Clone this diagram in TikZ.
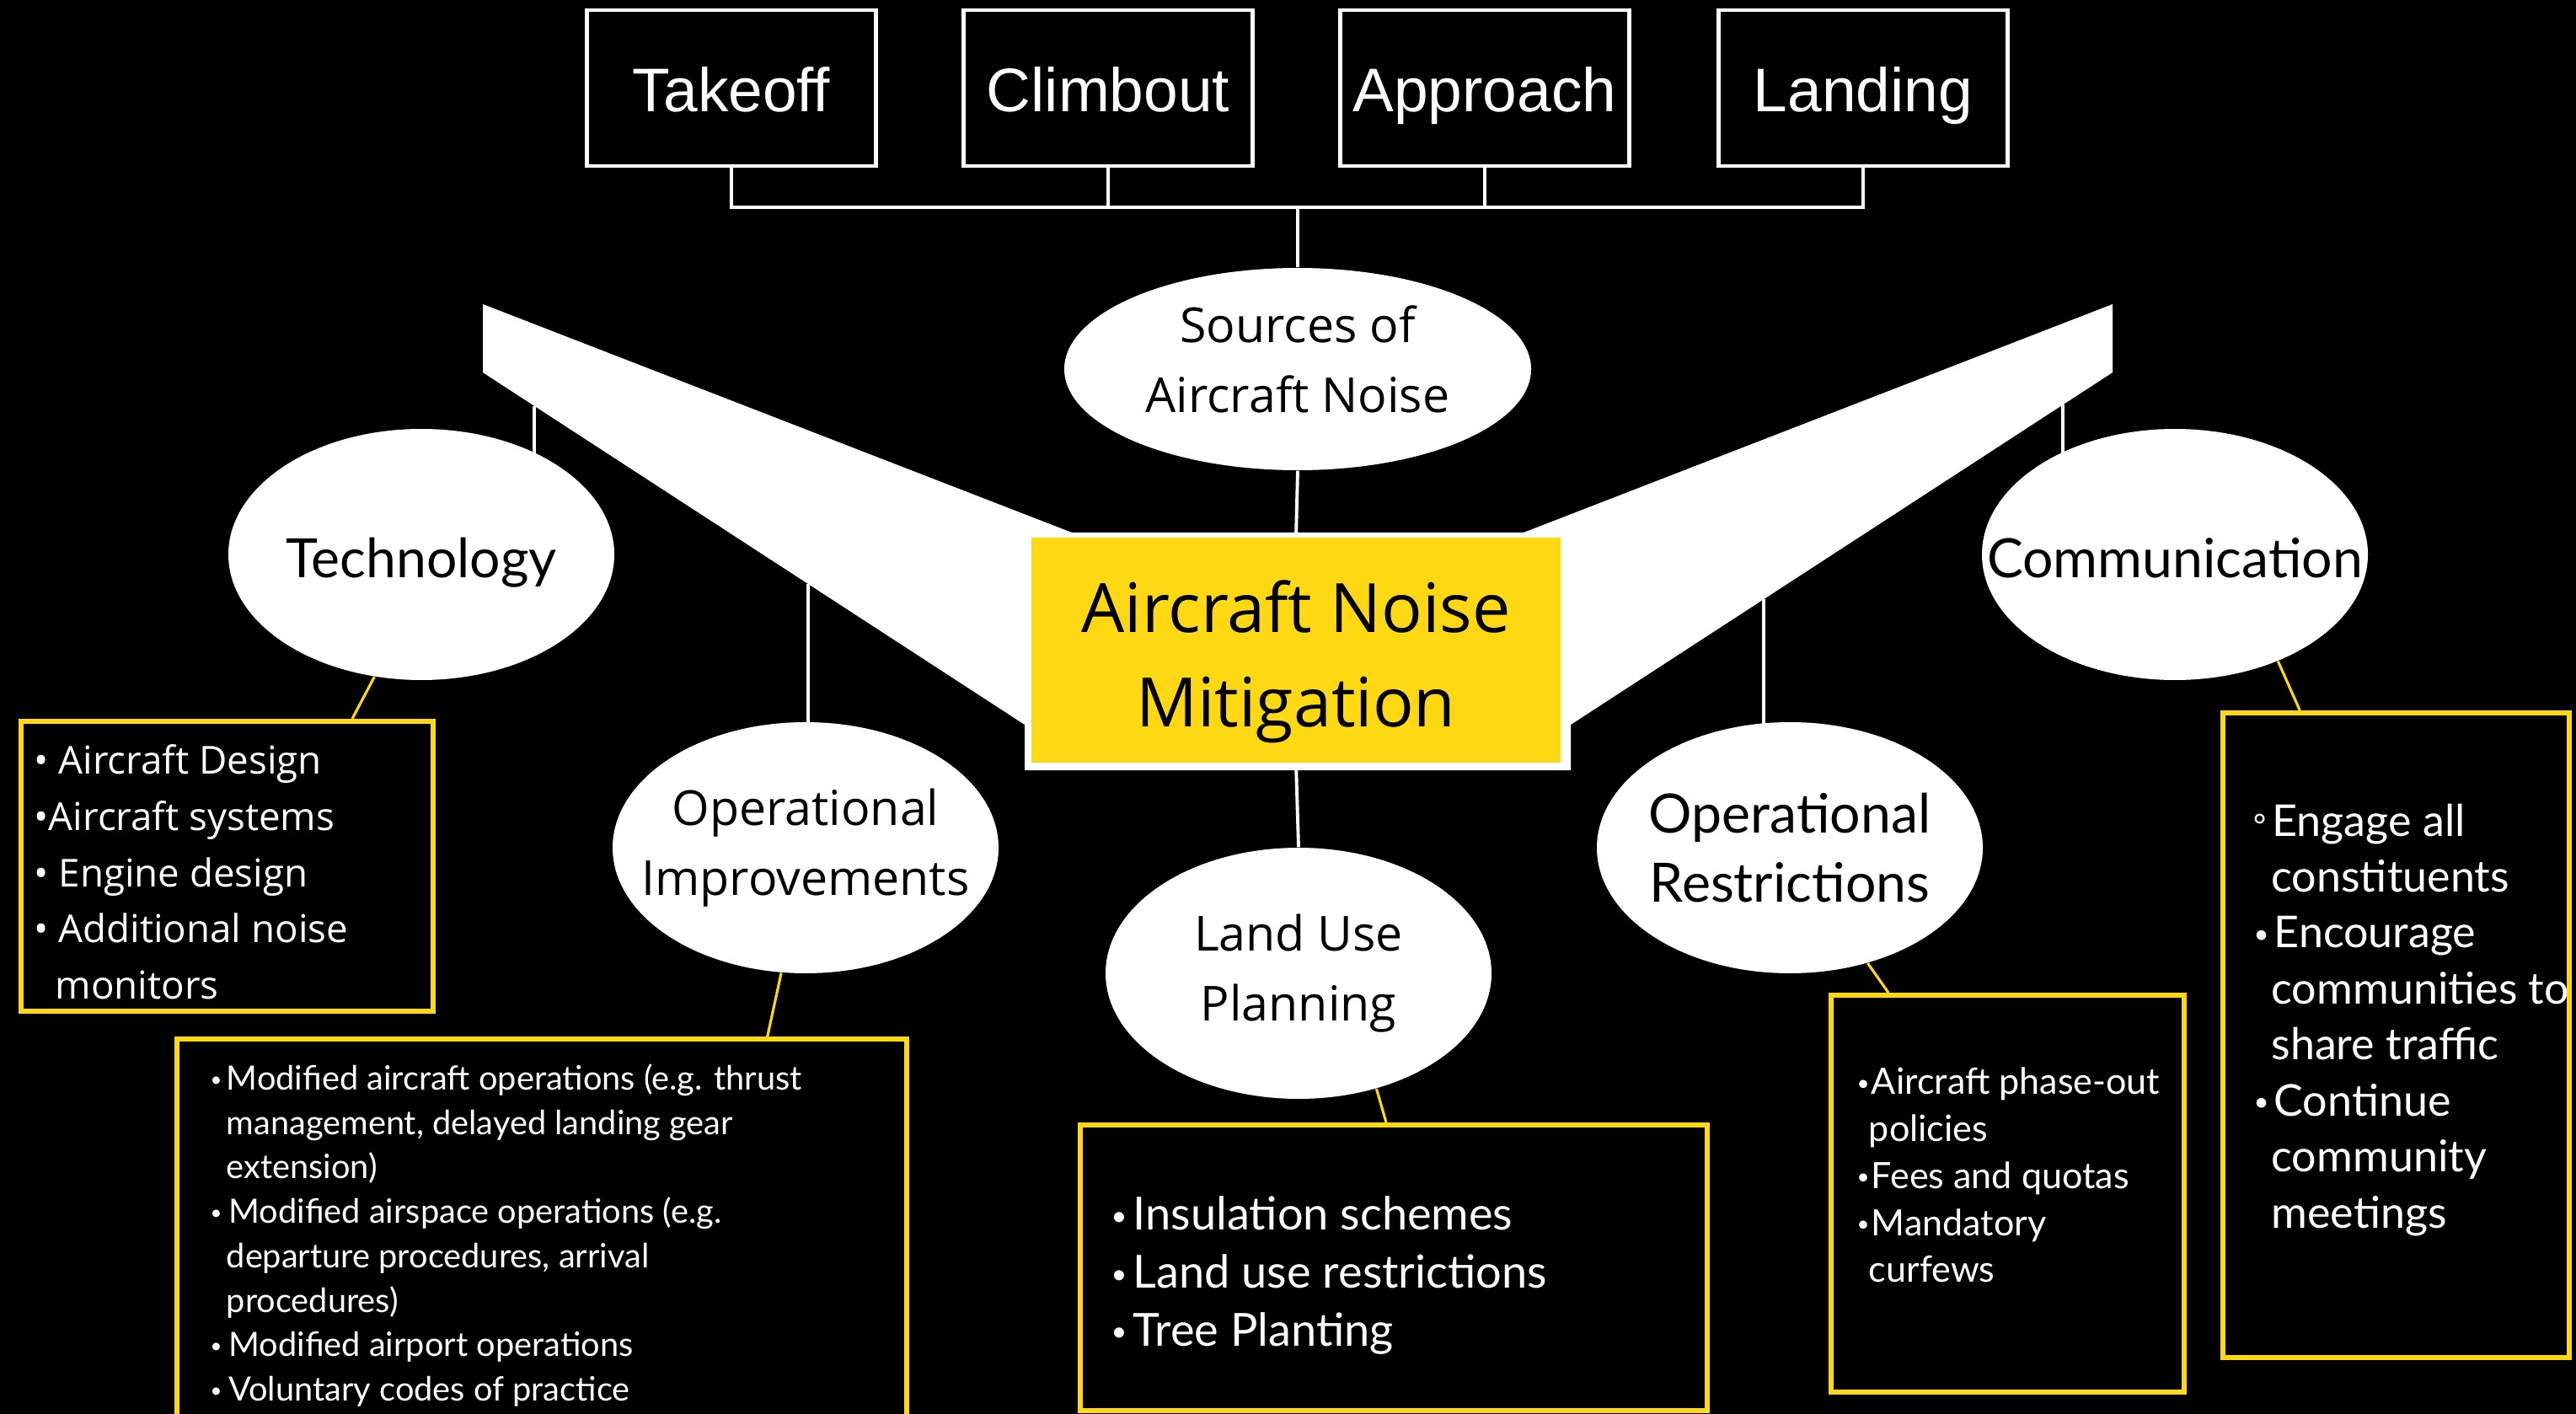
\documentclass[tikz,border=0pt]{standalone}
\usepackage{fontspec}
\usepackage{graphicx}
\setmainfont{Open Sans}
\newfontfamily\ralfont{Lato}
\newfontfamily\arifont{Liberation Sans}
\usetikzlibrary{calc,shapes.geometric}

\definecolor{noiseyellow}{RGB}{255,216,20}
\pgfdeclarelayer{ground}
\pgfdeclarelayer{links}
\pgfsetlayers{ground,links,main}

% small list bullet and hanging indent
\newcommand\dotitem[1]{\makebox[#1][l]{\raisebox{0.1em}{\scalebox{0.6}{•}}}}

\tikzset{
  phase/.style={draw=white, line width=1.4pt, fill=black, text=white,
    minimum width=3.43cm, minimum height=1.85cm, inner sep=0pt,
    text height=16.2pt, text depth=0pt,
    font=\arifont\fontsize{20.8}{25}\selectfont},
  topic/.style={ellipse, fill=white, text=black, align=center,
    minimum width=4.58cm, minimum height=2.98cm, inner xsep=-1.2cm, inner ysep=0pt,
    font=\fontsize{16.3}{23.6}\selectfont},
  raltopic/.style={topic, font=\ralfont\fontsize{18.3}{23.3}\selectfont},
  oneline/.style={text height=15.4pt, text depth=0pt},
  hub/.style={fill=noiseyellow, text=black, align=center,
    minimum width=6.28cm, minimum height=2.67cm, inner sep=0pt,
    font=\fontsize{23}{32}\selectfont},
  listbox/.style={draw=noiseyellow, line width=1.7pt, fill=black, inner sep=0pt},
  listtext/.style={text=white, align=left, inner sep=0pt, anchor=north west},
  link/.style={white, line width=1.1pt},
  tie/.style={noiseyellow, line width=0.9pt},
}

\begin{document}
\begin{tikzpicture}
  \begin{pgfonlayer}{ground}
    \fill[black] (0,0) rectangle (30.57,-16.78);
  \end{pgfonlayer}
  \useasboundingbox (0,0) rectangle (30.57,-16.78);

  % flight phases
  \node[phase] (takeoff)  at (8.68,-1.045)  {Takeoff};
  \node[phase] (climbout) at (13.15,-1.045) {Climbout};
  \node[phase] (approach) at (17.62,-1.045) {Approach};
  \node[phase] (landing)  at (22.11,-1.045) {Landing};
  \coordinate (bar) at (15.40,-2.46);
  \draw[link] (takeoff.south) |- (bar) -| (landing.south);
  \draw[link] (climbout.south) -- (climbout.south |- bar);
  \draw[link] (approach.south) -- (approach.south |- bar);

  % wings and fuselage
  \coordinate (ltipA)  at (5.73,-3.61);
  \coordinate (ltipB)  at (5.73,-4.42);
  \coordinate (lfront) at (12.72,-6.32);
  \coordinate (lroot)  at (12.16,-8.60);
  \coordinate (lrootB) at (12.16,-9.14);
  \coordinate (rtipA)  at (25.07,-3.61);
  \coordinate (rtipB)  at (25.07,-4.42);
  \coordinate (rfront) at (18.08,-6.32);
  \coordinate (rroot)  at (18.64,-8.60);
  \coordinate (rrootB) at (18.64,-9.14);
  \fill[white] (ltipA) -- (lfront) -- (rfront) -- (rtipA) -- (rtipB) -- (rroot)
    -- (rrootB) -- (lrootB) -- (lroot) -- (ltipB) -- cycle;

  \node[hub] (hub) at (15.38,-7.715) {\rule{0pt}{25.5pt}Aircraft Noise\\Mitigation};

  % topics
  \node[topic, minimum width=5.54cm, minimum height=2.4cm] (sources) at (15.40,-4.38)
    {Sources of\\Aircraft Noise\rule[-7pt]{0pt}{7pt}};
  \node[raltopic, oneline] (tech) at (5.00,-6.58) {Technology};
  \node[topic]    (opimp)   at (9.56,-10.06)  {Operational\\Improvements};
  \node[topic]    (landuse) at (15.41,-11.55) {Land Use\\Planning};
  \node[raltopic] (restr)   at (21.24,-10.06) {Operational\\Restrictions};
  \node[raltopic, oneline] (comm) at (25.81,-6.58) {Communication};

  \coordinate (wt) at ($(ltipB)!0.095!(lroot)$);
  \coordinate (wi) at ($(ltipB)!0.600!(lroot)$);
  \coordinate (wr) at ($(rtipB)!0.644!(rroot)$);
  \coordinate (wc) at ($(rtipB)!0.092!(rroot)$);
  \begin{pgfonlayer}{links}
    \draw[link] (bar) -- (sources.north);
    \draw[link] (sources.south) -- (hub.north);
    \draw[link] (hub.south) -- (landuse.north);
    \draw[link] (wt) -- (wt |- tech.center);
    \draw[link] (wi) -- (wi |- opimp.center);
    \draw[link] (wr) -- (wr |- restr.center);
    \draw[link] (wc) -- (wc |- comm.center);
  \end{pgfonlayer}

  % lists
  \node[listbox, minimum width=4.89cm, minimum height=3.44cm] (techbox)  at (2.695,-10.28) {};
  \node[listbox, minimum width=8.66cm, minimum height=4.67cm] (impbox)   at (6.43,-14.665) {};
  \node[listbox, minimum width=7.44cm, minimum height=3.39cm] (landbox)  at (16.54,-15.045) {};
  \node[listbox, minimum width=4.19cm, minimum height=4.71cm] (restrbox) at (23.825,-14.165) {};
  \node[listbox, minimum width=4.11cm, minimum height=7.65cm] (commbox)  at (28.435,-12.285) {};

  \node[listtext, font=\fontsize{13}{19}\selectfont] (techtxt) at (0.40,-8.83)
    {• Aircraft Design\\•Aircraft systems\\• Engine design\\• Additional noise\\\hspace{0.55em}monitors};
  \node[listtext, font=\ralfont\fontsize{11.3}{15}\selectfont] (imptxt) at (2.49,-12.62)
    {\dotitem{0.48em}Modified aircraft operations (e.g. thrust\\\hspace{0.48em}management, delayed landing gear\\\hspace{0.48em}extension)\\\dotitem{0.55em}Modified airspace operations (e.g.\\\hspace{0.48em}departure procedures, arrival\\\hspace{0.48em}procedures)\\\dotitem{0.55em}Modified airport operations\\\dotitem{0.55em}Voluntary codes of practice};
  \node[listtext, font=\ralfont\fontsize{15.4}{19.6}\selectfont] (landtxt) at (13.18,-14.19)
    {\dotitem{0.48em}Insulation schemes\\\dotitem{0.48em}Land use restrictions\\\dotitem{0.48em}Tree Planting};
  \node[listtext, font=\ralfont\fontsize{12.25}{15.9}\selectfont] (restrtxt) at (22.03,-12.66)
    {\dotitem{0.4em}Aircraft phase-out\\\hspace{0.33em}policies\\\dotitem{0.4em}Fees and quotas\\\dotitem{0.4em}Mandatory\\\hspace{0.33em}curfews};
  \node[listtext, font=\ralfont\fontsize{14.8}{18.9}\selectfont] (commtxt) at (26.74,-9.53)
    {\makebox[0.42em][l]{\scalebox{0.7}{°}}Engage all\\\hspace{0.4em}constituents\\\dotitem{0.46em}Encourage\\\hspace{0.4em}communities to\\\hspace{0.4em}share traffic\\\dotitem{0.46em}Continue\\\hspace{0.4em}community\\\hspace{0.4em}meetings};

  \draw[tie] (tech.249)    -- ($(techbox.north west)!0.80!(techbox.north east)$);
  \draw[tie] (opimp.259)   -- ($(impbox.north west)!0.807!(impbox.north east)$);
  \draw[tie] (landuse.304) -- ($(landbox.north west)!0.488!(landbox.north east)$);
  \draw[tie] (restr.304)   -- ($(restrbox.north west)!0.167!(restrbox.north east)$);
  \draw[tie] (comm.314)    -- ($(commbox.north west)!0.226!(commbox.north east)$);
\end{tikzpicture}
\end{document}
